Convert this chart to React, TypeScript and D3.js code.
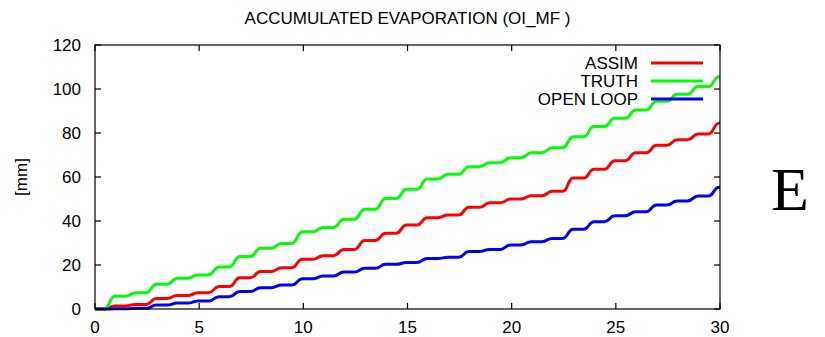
import React from "react";
import * as d3 from "d3";

const title = "ACCUMULATED EVAPORATION (OI_MF )";
const yLabel = "[mm]";
const days = d3.range(0, 31);
const xTicks = [0, 5, 10, 15, 20, 25, 30];
const yTicks = [0, 20, 40, 60, 80, 100, 120];

const assim = [0, 1.4, 2.1, 4.8, 6.1, 7.4, 10.2, 14.2, 17.0, 18.8, 22.6, 24.2, 27.1, 31.1, 34.4, 38.2, 41.5, 42.7, 46.2, 48.3, 50.0, 51.5, 53.5, 59.5, 63.5, 67.4, 71.0, 74.4, 76.9, 79.6, 84.4];
const truth = [0, 5.8, 7.4, 11.2, 14.0, 15.5, 19.1, 23.9, 27.6, 29.8, 35.1, 37.1, 40.8, 45.3, 50.2, 54.4, 59.1, 61.2, 64.7, 66.5, 68.8, 71.0, 73.3, 78.3, 82.9, 86.7, 90.4, 94.4, 97.6, 101.1, 105.6];
const openLoop = [0, 0.1, 0.3, 1.8, 2.7, 3.6, 5.6, 7.9, 9.7, 10.9, 13.7, 15.0, 16.8, 18.5, 20.3, 21.1, 23.0, 23.5, 26.1, 27.1, 29.1, 30.6, 32.1, 36.2, 39.7, 42.4, 44.2, 47.3, 49.1, 51.4, 55.3];

const seriesNames = ["ASSIM", "TRUTH", "OPEN LOOP"];
const seriesValues = [assim, truth, openLoop];
const seriesColors = ["#ff0000", "#00ff00", "#0000ff"];

// custom curve: flat plateau, then smooth daily rise
function curveDaily(context: any) {
  let x0 = 0, y0 = 0, started = false;
  return {
    areaStart() {},
    areaEnd() {},
    lineStart() { started = false; },
    lineEnd() {},
    point(x: number, y: number) {
      if (!started) {
        context.moveTo(x, y);
        started = true;
      } else {
        const dx = x - x0;
        context.lineTo(x0 + 0.45 * dx, y0);
        context.bezierCurveTo(x0 + 0.7 * dx, y0, x0 + 0.7 * dx, y, x0 + 0.95 * dx, y);
        context.lineTo(x, y);
      }
      x0 = x; y0 = y;
    },
  };
}

export default function App() {
  const W = 825, H = 337;
  const left = 95, right = 720, top = 45, bottom = 309;
  const x = d3.scaleLinear().domain([0, 30]).range([left, right]);
  const y = d3.scaleLinear().domain([0, 120]).range([bottom, top]);
  const line = d3.line<number>().x((_, i) => x(days[i])).y((d) => y(d)).curve(curveDaily as any);
  const font = "'Liberation Sans', Arial, Helvetica, sans-serif";
  const fs = 17;
  const tl = 6;

  return (
    <svg width={W} height={H} style={{ position: "absolute", left: 0, top: 0, background: "#fff" }} fontFamily={font}>
      <rect x={0} y={0} width={W} height={H} fill="#fff" />
      <text x={(left + right) / 2} y={24} textAnchor="middle" fontSize={fs} fill="#000">{title}</text>
      <text transform={`translate(27,${(top + bottom) / 2}) rotate(-90)`} textAnchor="middle" fontSize={fs} fill="#000">{yLabel}</text>

      {seriesValues.map((vals, i) => (
        <path key={seriesNames[i]} d={line(vals) || ""} fill="none" stroke={seriesColors[i]} strokeWidth={3} strokeLinejoin="round" />
      ))}

      <rect x={left} y={top} width={right - left} height={bottom - top} fill="none" stroke="#000" strokeWidth={1.2} />
      {xTicks.map((t) => (
        <g key={"x" + t}>
          <line x1={x(t)} x2={x(t)} y1={bottom} y2={bottom - tl} stroke="#000" strokeWidth={1.2} />
          <line x1={x(t)} x2={x(t)} y1={top} y2={top + tl} stroke="#000" strokeWidth={1.2} />
          <text x={x(t)} y={333} textAnchor="middle" fontSize={fs} fill="#000">{t}</text>
        </g>
      ))}
      {yTicks.map((t) => (
        <g key={"y" + t}>
          <line x1={left} x2={left + tl} y1={y(t)} y2={y(t)} stroke="#000" strokeWidth={1.2} />
          <line x1={right} x2={right - tl} y1={y(t)} y2={y(t)} stroke="#000" strokeWidth={1.2} />
          <text x={81} y={y(t) + 6} textAnchor="end" fontSize={fs} fill="#000">{t}</text>
        </g>
      ))}

      {seriesNames.map((n, i) => (
        <g key={"leg" + n}>
          <text x={638} y={63 + i * 18 + 6} textAnchor="end" fontSize={fs} fill="#000">{n}</text>
          <line x1={651} x2={703} y1={63 + i * 18} y2={63 + i * 18} stroke={seriesColors[i]} strokeWidth={3} />
        </g>
      ))}

      <text x={771} y={210} fontFamily="'Liberation Serif', 'Times New Roman', serif" fontSize={62} fill="#000">E</text>
    </svg>
  );
}
